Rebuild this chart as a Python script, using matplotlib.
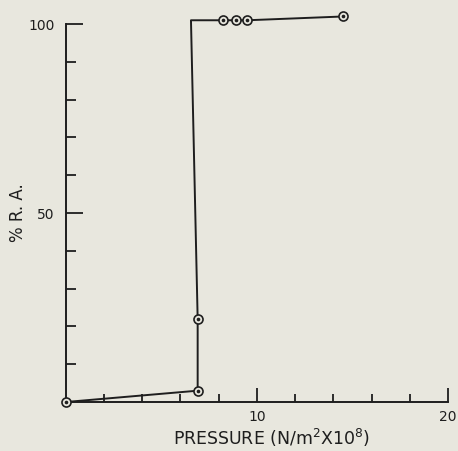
import matplotlib.pyplot as plt
from matplotlib.ticker import FixedLocator, NullFormatter

plt.rcParams["font.family"] = "DejaVu Sans"

PAPER = "#e8e7de"
INK = "#1e1e1e"

pressure = [0.0, 6.9, 6.9, 6.55, 8.2, 8.9, 9.5, 14.5]      # N/m^2 x 10^8
ra_pct = [0.0, 3.0, 22.0, 101.0, 101.0, 101.0, 101.0, 102.0]
measured = [True, True, True, False, True, True, True, True]  # corner has no symbol

x_major = [10, 20]
x_minor = [2, 4, 6, 8, 12, 14, 16, 18]
y_major = [50, 100]
y_minor = [10, 20, 30, 40, 60, 70, 80, 90]

fig = plt.figure(figsize=(4.58, 4.51), dpi=100, facecolor=PAPER)
ax = fig.add_axes([0.1435, 0.1086, 0.835, 0.880])
ax.set_facecolor(PAPER)

ax.plot(pressure, ra_pct, color=INK, lw=1.4, clip_on=False, zorder=3)
mx = [p for p, m in zip(pressure, measured) if m]
my = [r for r, m in zip(ra_pct, measured) if m]
ax.plot(mx, my, ls="none", marker="o", ms=6.5, mfc=PAPER, mec=INK, mew=1.2,
        clip_on=False, zorder=4)
ax.plot(mx, my, ls="none", marker="o", ms=1.6, mfc=INK, mec=INK,
        clip_on=False, zorder=5)

ax.set_xlim(0, 20)
ax.set_ylim(0, 105)
for side in ("top", "right"):
    ax.spines[side].set_visible(False)
ax.spines["left"].set_bounds(0, 100)
ax.spines["bottom"].set_bounds(0, 20)
for side in ("left", "bottom"):
    ax.spines[side].set_linewidth(1.4)
    ax.spines[side].set_color(INK)

ax.xaxis.set_major_locator(FixedLocator(x_major))
ax.xaxis.set_minor_locator(FixedLocator(x_minor))
ax.yaxis.set_major_locator(FixedLocator(y_major))
ax.yaxis.set_minor_locator(FixedLocator(y_minor))
ax.xaxis.set_minor_formatter(NullFormatter())
ax.yaxis.set_minor_formatter(NullFormatter())

ax.tick_params(axis="both", which="both", direction="in", color=INK,
               width=1.3, labelcolor=INK, labelsize=10)
ax.tick_params(axis="x", which="major", length=10, pad=6)
ax.tick_params(axis="x", which="minor", length=6)
ax.tick_params(axis="y", which="major", length=12, pad=8)
ax.tick_params(axis="y", which="minor", length=7)

# axis titles placed by hand, the scan has them tight to the edges
fig.text(0.594, 0.030, "PRESSURE (N/m$^2$X10$^8$)", fontsize=12.5,
         color=INK, ha="center", va="center")
fig.text(0.040, 0.528, "% R. A.", fontsize=12, color=INK, rotation=90,
         ha="center", va="center")

fig.savefig("out.png", dpi=100, facecolor=PAPER)
